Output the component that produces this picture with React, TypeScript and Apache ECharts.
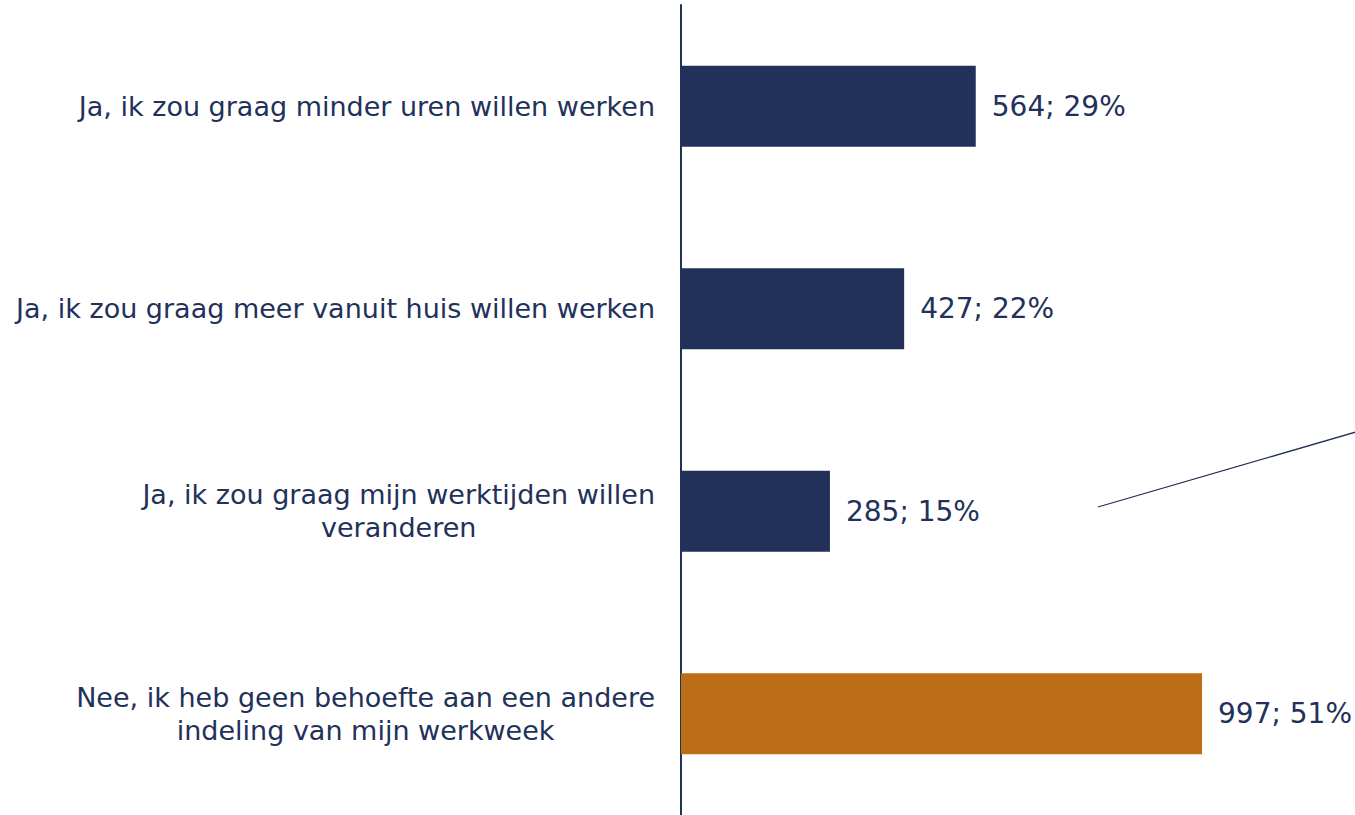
import React, { useEffect, useRef } from "react";
import * as echarts from "echarts";

const categories = [
  "Ja, ik zou graag minder uren willen werken",
  "Ja, ik zou graag meer vanuit huis willen werken",
  "Ja, ik zou graag mijn werktijden willen\nveranderen",
  "Nee, ik heb geen behoefte aan een andere\nindeling van mijn werkweek",
];
const counts = [564, 427, 285, 997];
const percents = [29, 22, 15, 51];
const barColors = ["#22315A", "#22315A", "#22315A", "#BC6E17"];

const NAVY = "#22315A";
const FONT = "DejaVu Sans";

export default function App() {
  const ref = useRef<HTMLDivElement>(null);
  useEffect(() => {
    if (!ref.current) return;
    const chart = echarts.init(ref.current, undefined, { renderer: "svg" });
    chart.setOption({
      animation: false,
      backgroundColor: "#ffffff",
      grid: { left: 681, top: 5, width: 522.6, height: 813.5, containLabel: false },
      xAxis: {
        type: "value",
        min: 0,
        max: 1000,
        show: false,
        splitLine: { show: false },
      },
      yAxis: {
        type: "category",
        data: categories,
        inverse: true,
        axisLine: { show: true, lineStyle: { color: NAVY, width: 2 } },
        axisTick: { show: false },
        axisLabel: {
          margin: 26,
          align: "right",
          fontFamily: FONT,
          fontSize: 27,
          color: NAVY,
          lineHeight: 33,
          formatter: (v: string) =>
            v
              .split("\n")
              .map((l) => `{c|${l}}`)
              .join("\n"),
          rich: {
            c: {
              align: "center",
              fontFamily: FONT,
              fontSize: 27,
              color: NAVY,
              lineHeight: 33,
            },
          },
        },
      },
      series: [
        {
          type: "bar",
          barWidth: "40%",
          data: counts.map((v, i) => ({
            value: v,
            itemStyle: { color: barColors[i] },
          })),
          label: {
            show: true,
            position: "right",
            distance: 16,
            fontFamily: FONT,
            fontSize: 28,
            color: NAVY,
            formatter: (p: any) => `${counts[p.dataIndex]}; ${percents[p.dataIndex]}%`,
          },
        },
      ],
      graphic: [
        {
          type: "line",
          shape: { x1: 1098, y1: 507, x2: 1356, y2: 432 },
          style: { stroke: NAVY, lineWidth: 1.3 },
          silent: true,
        },
      ],
    });
    return () => chart.dispose();
  }, []);
  return (
    <div
      ref={ref}
      style={{ position: "fixed", left: 0, top: 0, width: 1355, height: 815 }}
    />
  );
}
